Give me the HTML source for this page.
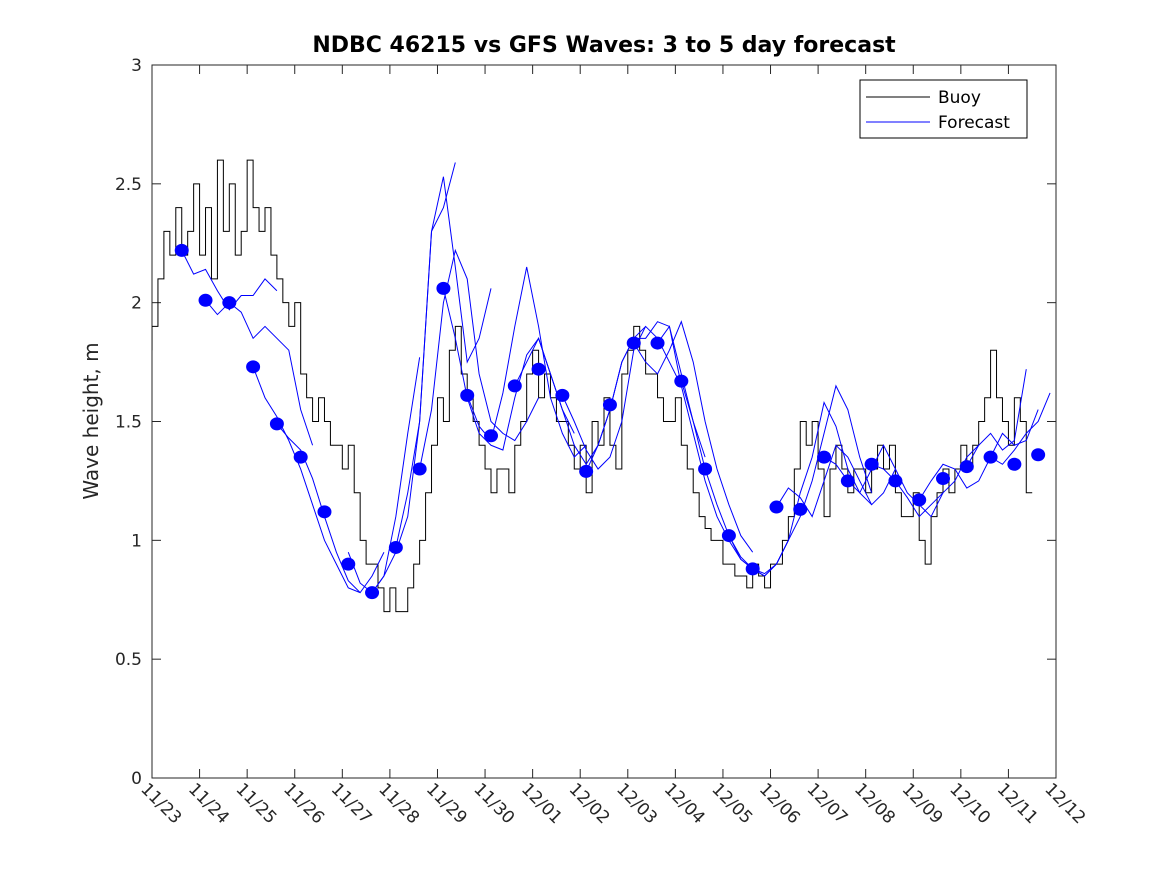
<!DOCTYPE html>
<html><head><meta charset="utf-8"><style>
body{margin:0;background:#fff;}
svg{display:block;font-family:"DejaVu Sans","Liberation Sans",sans-serif;}
</style></head><body>
<svg id="chart" width="1167" height="875" viewBox="0 0 1167 875">
<rect x="0" y="0" width="1167" height="875" fill="#fff"/>
<text x="604" y="52" text-anchor="middle" font-size="22" font-weight="bold" fill="#000">NDBC 46215 vs GFS Waves: 3 to 5 day forecast</text>
<text transform="translate(98,421) rotate(-90)" text-anchor="middle" font-size="20" fill="#262626">Wave height, m</text>
<g id="plot"></g>
<g>
<rect x="860" y="80" width="167" height="58" fill="#fff" stroke="#000" stroke-width="1"/>
<line x1="866" y1="97" x2="930" y2="97" stroke="#000" stroke-width="1"/>
<text x="938" y="103" font-size="17" fill="#000">Buoy</text>
<line x1="866" y1="122" x2="930" y2="122" stroke="#0000ff" stroke-width="1"/>
<text x="938" y="128" font-size="17" fill="#000">Forecast</text>
</g>
</svg>
<script>
const xTickLabels=["11/23","11/24","11/25","11/26","11/27","11/28","11/29","11/30","12/01","12/02","12/03","12/04","12/05","12/06","12/07","12/08","12/09","12/10","12/11","12/12"];
const yTicks=[0,0.5,1,1.5,2,2.5,3];
const buoyStep=0.125;
const buoyValues=[1.8,1.9,2.1,2.3,2.2,2.4,2.2,2.3,
2.5,2.2,2.4,2.1,2.6,2.3,2.5,2.2,
2.3,2.6,2.4,2.3,2.4,2.2,2.1,2.0,
1.9,2.0,1.7,1.6,1.5,1.6,1.5,1.4,
1.4,1.3,1.4,1.2,1.0,0.9,0.9,0.8,
0.7,0.8,0.7,0.7,0.8,0.9,1.0,1.2,
1.4,1.6,1.5,1.8,1.9,1.7,1.6,1.5,
1.4,1.3,1.2,1.3,1.3,1.2,1.4,1.5,
1.7,1.8,1.6,1.7,1.6,1.5,1.5,1.4,
1.3,1.4,1.2,1.5,1.4,1.6,1.4,1.3,
1.7,1.8,1.9,1.8,1.7,1.7,1.6,1.5,
1.5,1.6,1.4,1.3,1.2,1.1,1.05,1.0,
1.0,0.9,0.9,0.85,0.85,0.8,0.9,0.85,
0.8,0.9,0.9,1.0,1.1,1.3,1.5,1.4,
1.5,1.3,1.1,1.3,1.4,1.3,1.2,1.3,
1.3,1.2,1.3,1.4,1.3,1.4,1.2,1.1,
1.1,1.2,1.0,0.9,1.1,1.2,1.3,1.2,
1.3,1.4,1.3,1.4,1.5,1.6,1.8,1.6,
1.5,1.4,1.6,1.5,1.2];
const dotStart=0.625, dotStep=0.5;
const dotValues=[2.22,2.01,2.00,1.73,1.49,1.35,1.12,0.90,0.78,0.97,1.30,2.06,1.61,1.44,1.65,1.72,1.61,1.29,1.57,1.83,1.83,1.67,1.30,1.02,0.88,1.14,1.13,1.35,1.25,1.32,1.25,1.17,1.26,1.31,1.35,1.32,1.36];
const fcStep=0.25;
const fcStarts=[0.625,1.125,2.125,2.625,4.125,4.625,5.125,5.625,6.125,6.625,7.625,8.625,9.125,10.125,10.625,11.125,12.125,12.625,13.125,14.125,15.125,16.125,17.125,17.625];
const fcValues=[
[2.22,2.12,2.14,2.05,1.97,2.03,2.03,2.10,2.05],
[2.01,1.95,2.00,1.96,1.85,1.90,1.85,1.80,1.55,1.40],
[1.73,1.60,1.52,1.42,1.30,1.15,1.0,0.9,0.80,0.78],
[1.49,1.43,1.38,1.26,1.10,0.95,0.83,0.78,0.85,0.95],
[0.95,0.82,0.78,0.85,1.1,1.45,1.77],
[0.78,0.85,0.95,1.1,1.5,2.3,2.40,2.59],
[0.97,1.2,1.5,2.3,2.53,2.15,1.75,1.85,2.06],
[1.30,1.55,2.0,2.22,2.1,1.7,1.50,1.45,1.42,1.50,1.60],
[2.06,1.85,1.60,1.45,1.40,1.38,1.60,1.78,1.85,1.70,1.55,1.45],
[1.61,1.48,1.42,1.62,1.90,2.15,1.90,1.60,1.45,1.35,1.40],
[1.65,1.75,1.85,1.70,1.55,1.40,1.32,1.40,1.55,1.75,1.85,1.90],
[1.61,1.50,1.38,1.30,1.35,1.50,1.80,1.90,1.85,1.75,1.65],
[1.29,1.40,1.55,1.75,1.85,1.85,1.92,1.90,1.70,1.50,1.35],
[1.83,1.75,1.70,1.80,1.92,1.75,1.50,1.30,1.15,1.02,0.95],
[1.83,1.90,1.65,1.45,1.25,1.10,1.00,0.92,0.88],
[1.67,1.50,1.30,1.15,1.02,0.93,0.88,0.85,0.90,1.00],
[1.02,0.92,0.88,0.86,0.90,1.00,1.10,1.25,1.45,1.65,1.55,1.35,1.20],
[0.88,0.85,0.90,1.00,1.20,1.35,1.58,1.48,1.30,1.20,1.15],
[1.14,1.22,1.18,1.10,1.25,1.40,1.35,1.25,1.15,1.20,1.30],
[1.35,1.32,1.25,1.20,1.30,1.40,1.30,1.20,1.15,1.10,1.20],
[1.32,1.30,1.25,1.18,1.10,1.15,1.20,1.25,1.35,1.40],
[1.17,1.25,1.32,1.30,1.22,1.25,1.35,1.45,1.40,1.42,1.55],
[1.31,1.40,1.45,1.38,1.42,1.72],
[1.35,1.32,1.38,1.45,1.50,1.62]];

const L=152,R=1056,T=65,B=778,DAYS=19,YMAX=3;
function xs(d){return L+(d/DAYS)*(R-L);}
function ys(v){return B-(v/YMAX)*(B-T);}
const NS="http://www.w3.org/2000/svg";
const plot=document.getElementById('plot');
function mk(tag,attrs,parent){const e=document.createElementNS(NS,tag);for(const k in attrs)e.setAttribute(k,attrs[k]);(parent||plot).appendChild(e);return e;}

const cp=mk('clipPath',{id:'clip'});mk('rect',{x:L,y:T,width:R-L,height:B-T},cp);
const frame=mk('rect',{x:L,y:T,width:R-L,height:B-T,fill:'#fff',stroke:'#262626','stroke-width':1});



yTicks.forEach(v=>{
  const y=ys(v);
  mk('line',{x1:L,y1:y,x2:L+9,y2:y,stroke:'#262626'});
  mk('line',{x1:R,y1:y,x2:R-9,y2:y,stroke:'#262626'});
  const t=mk('text',{x:L-10,y:y+6,'text-anchor':'end','font-size':17,fill:'#262626'});
  t.textContent=String(v);
  
  
});
xTickLabels.forEach((lab,i)=>{
  const x=xs(i);
  mk('line',{x1:x,y1:B,x2:x,y2:B-9,stroke:'#262626'});
  mk('line',{x1:x,y1:T,x2:x,y2:T+9,stroke:'#262626'});
  const t=mk('text',{transform:`translate(${x-12},${B+12}) rotate(45)`,'font-size':17,fill:'#262626'});
  t.textContent=lab;
  
  
});

const g=mk('g',{'clip-path':'url(#clip)'});
let d='';
buoyValues.forEach((v,i)=>{const x=xs(i*buoyStep),y=ys(v);if(i===0)d+=`M${x},${y}`;else d+=`V${y}H${x}`;});
const bl=mk('path',{d:d,fill:'none',stroke:'#000','stroke-width':1},g);



fcValues.forEach((arr,k)=>{
  const pts=arr.map((v,i)=>xs(fcStarts[k]+i*fcStep)+','+ys(v)).join(' ');
  const p=mk('polyline',{points:pts,fill:'none',stroke:'#0000ff','stroke-width':1},g);
  
  
});
dotValues.forEach((v,i)=>{
  const c=mk('ellipse',{cx:xs(dotStart+i*dotStep),cy:ys(v),rx:7,ry:6.5,fill:'#0000ff'},g);
  
  
});
</script>
</body></html>
